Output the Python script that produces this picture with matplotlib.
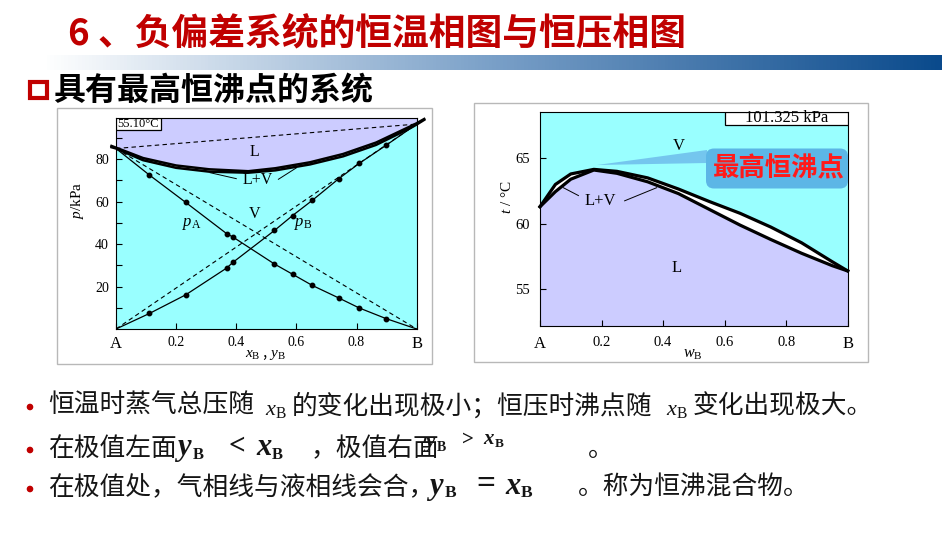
import matplotlib
matplotlib.use("Agg")
import matplotlib.pyplot as plt
import numpy as np
from matplotlib.patches import Rectangle, FancyBboxPatch, Polygon, Circle
from matplotlib.colors import LinearSegmentedColormap

plt.rcParams['font.family'] = ['Noto Sans CJK SC', 'DejaVu Sans']
plt.rcParams['mathtext.fontset'] = 'custom'
plt.rcParams['mathtext.rm'] = 'Liberation Serif'
plt.rcParams['mathtext.it'] = 'Liberation Serif:italic'
plt.rcParams['mathtext.bf'] = 'Liberation Serif:bold'
plt.rcParams['mathtext.bfit'] = 'Liberation Serif:bold:italic'

# ---------------- data ----------------
# Left: isothermal p-x diagram (55.10 C)
xB_pts = [0.111, 0.232, 0.368, 0.389, 0.527, 0.587, 0.653, 0.741, 0.809, 0.898]
pA_pts = [72.5, 59.6, 44.9, 43.3, 30.6, 25.8, 20.5, 14.6, 9.9, 4.9]
pB_pts = [7.3, 16.1, 28.7, 31.4, 46.4, 53.4, 60.6, 70.8, 78.0, 86.5]
pA_star = 85.0
pB_star = 96.5
x_tot = [-0.015, 0.0, 0.09, 0.20, 0.31, 0.44, 0.53, 0.645, 0.755, 0.865, 0.98, 1.0, 1.025]
p_liq = [86.2, 85.4, 80.5, 77.0, 75.2, 74.3, 75.7, 78.5, 82.4, 87.8, 95.5, 96.9, 98.9]
p_vap = [85.6, 85.0, 79.5, 75.9, 74.1, 73.6, 74.7, 77.5, 81.3, 86.7, 94.7, 96.3, 98.5]

# Right: isobaric t-w diagram (101.325 kPa)
wB = [0.0, 0.05, 0.10, 0.175, 0.25, 0.35, 0.45, 0.55, 0.65, 0.75, 0.85, 0.95, 1.0]
t_vap = [61.3, 63.0, 63.8, 64.15, 64.0, 63.5, 62.65, 61.7, 60.8, 59.75, 58.55, 57.1, 56.4]
t_liq = [61.3, 62.45, 63.4, 64.1, 63.85, 63.2, 62.3, 61.1, 59.9, 58.8, 57.75, 56.8, 56.4]

x_ticks = [0, 0.2, 0.4, 0.6, 0.8, 1.0]
x_ticklabels = ['A', '0.2', '0.4', '0.6', '0.8', 'B']

title = "6 、负偏差系统的恒温相图与恒压相图"
subtitle = "具有最高恒沸点的系统"

LAV = '#ccccff'
CYAN = '#99ffff'
SERIF = 'Liberation Serif'

W, H = 950, 535
fig = plt.figure(figsize=(9.5, 5.35), dpi=100)
fig.patch.set_facecolor('white')

def fx(x):
    return x / W

def fy(y):
    return 1 - y / H

# ---------------- left chart ----------------
P_TOP = 99.5
ax1 = fig.add_axes([fx(116), fy(329), (416.7 - 116) / W, (329 - 117.7) / H])
ax1.set_xlim(0, 1)
ax1.set_ylim(0, P_TOP)
ax1.fill_between(x_tot, p_liq, P_TOP, color=LAV, lw=0, zorder=0)
ax1.fill_between(x_tot, 0, p_vap, color=CYAN, lw=0, zorder=0)
ax1.fill_between(x_tot, p_vap, p_liq, color='white', lw=0, zorder=0)
ax1.plot(x_tot, p_liq, color='black', lw=1.8, clip_on=False, zorder=3)
ax1.plot(x_tot, p_vap, color='black', lw=1.8, clip_on=False, zorder=3)
# ideal (Raoult) dashed lines
ax1.plot([0, 1], [pA_star, 0], color='black', lw=0.8, ls=(0, (4, 3)))
ax1.plot([0, 1], [0, pB_star], color='black', lw=0.8, ls=(0, (4, 3)))
ax1.plot([0, 1], [pA_star, pB_star], color='black', lw=0.8, ls=(0, (4, 3)))
# partial pressures
ax1.plot([0] + xB_pts + [1], [pA_star] + pA_pts + [0], color='black', lw=0.9)
ax1.plot([0] + xB_pts + [1], [0] + pB_pts + [pB_star], color='black', lw=0.9)
ax1.plot(xB_pts, pA_pts, 'o', color='black', ms=3.2)
ax1.plot(xB_pts, pB_pts, 'o', color='black', ms=3.2)
ax1.set_xticks(x_ticks)
ax1.set_xticklabels(x_ticklabels)
ax1.set_yticks([20, 40, 60, 80])
ax1.set_yticks([10, 30, 50, 70, 90], minor=True)
ax1.tick_params(direction='in', length=4, width=0.8, pad=5, labelsize=10)
ax1.tick_params(which='minor', direction='in', length=4, width=0.8)
for sp in ax1.spines.values():
    sp.set_linewidth(0.8)
# labels inside
ax1.text(0.462, 83.4, 'L', family=SERIF, fontsize=11.5, ha='center', va='center')
ax1.text(0.47, 70.0, 'L+V', family=SERIF, fontsize=11.5, ha='center', va='center')
ax1.plot([0.400, 0.313], [70.8, 73.6], color='black', lw=0.7)
ax1.plot([0.540, 0.60], [70.5, 75.9], color='black', lw=0.7)
ax1.text(0.462, 54.2, 'V', family=SERIF, fontsize=11.5, ha='center', va='center')
ax1.text(0.252, 49.6, r'$p_{\mathrm{A}}$', fontsize=12, ha='center', va='center')
ax1.text(0.623, 49.6, r'$p_{\mathrm{B}}$', fontsize=12, ha='center', va='center')
box1_y0 = P_TOP - (130 - 117.7) / 2.1236
ax1.add_patch(Rectangle((0.0, box1_y0), 0.149, P_TOP - box1_y0, fc='white', ec='black',
                        lw=0.9, zorder=4))
ax1.text(0.0745, (P_TOP + box1_y0) / 2, '55.10°C', family=SERIF, fontsize=9,
         ha='center', va='center', zorder=5)

# ---------------- right chart ----------------
T_BOT, T_TOP = 52.2, 68.55
ax2 = fig.add_axes([fx(540), fy(326), 307.7 / W, 214.3 / H])
ax2.set_xlim(0, 1)
ax2.set_ylim(T_BOT, T_TOP)
ax2.fill_between(wB, t_vap, T_TOP, color=CYAN, lw=0, zorder=0)
ax2.fill_between(wB, T_BOT, t_liq, color=LAV, lw=0, zorder=0)
ax2.fill_between(wB, t_liq, t_vap, color='white', lw=0, zorder=0)
ax2.plot(wB, t_vap, color='black', lw=2.3, zorder=3, clip_on=False)
ax2.plot(wB, t_liq, color='black', lw=2.3, zorder=3, clip_on=False)
ax2.set_xticks(x_ticks)
ax2.set_xticklabels(x_ticklabels)
ax2.set_yticks([55, 60, 65])
ax2.tick_params(direction='in', length=4, width=0.8, pad=7, labelsize=10.5)
for sp in ax2.spines.values():
    sp.set_linewidth(0.8)
ax2.text(0.45, 65.9, 'V', family=SERIF, fontsize=12, ha='center', va='center')
ax2.text(0.444, 56.62, 'L', family=SERIF, fontsize=12, ha='center', va='center')
ax2.text(0.195, 61.7, 'L+V', family=SERIF, fontsize=12, ha='center', va='center')
ax2.plot([0.125, 0.076], [62.15, 62.75], color='black', lw=0.7)
ax2.plot([0.275, 0.379], [61.75, 62.75], color='black', lw=0.7)
box2_y0 = T_TOP - (125 - 111.7) / 13.1
ax2.add_patch(Rectangle((0.601, box2_y0), 0.399, T_TOP - box2_y0, fc='white', ec='black',
                        lw=0.9, zorder=4))
ax2.text(0.8, (T_TOP + box2_y0) / 2, '101.325 kPa', family=SERIF, fontsize=12,
         ha='center', va='center', zorder=5)

for ax in (ax1, ax2):
    for lab in ax.get_xticklabels() + ax.get_yticklabels():
        lab.set_fontfamily(SERIF)
    xl = ax.get_xticklabels()
    xl[0].set_fontsize(12)
    xl[-1].set_fontsize(12)

# ---------------- overlay (pixel coordinates) ----------------
ov = fig.add_axes([0, 0, 1, 1], zorder=10)
ov.set_xlim(0, W)
ov.set_ylim(H, 0)
ov.axis('off')
ov.patch.set_alpha(0)

# title
ov.text(68, 34, title, color='#c00000', fontsize=26.5, fontweight='bold', va='center', ha='left')
# gradient bar
cmap = LinearSegmentedColormap.from_list('g', ['#ffffff', '#7aa0c8', '#0a4a8c'])
grad = np.linspace(0, 1, 256)[None, :]
ov.imshow(grad, cmap=cmap, extent=[43, 942, 70, 55], aspect='auto', zorder=1)
ov.set_xlim(0, W)
ov.set_ylim(H, 0)
# subtitle
ov.add_patch(Rectangle((30, 82), 17, 16, fill=False, ec='#c00000', lw=3))
ov.text(53, 91, subtitle, color='black', fontsize=23, fontweight='bold', va='center', ha='left')

# image frames
ov.add_patch(Rectangle((57, 108), 375, 256, fill=False, ec='#b8b8b8', lw=1))
ov.add_patch(Rectangle((474, 103), 394, 259, fill=False, ec='#b8b8b8', lw=1))

# axis labels
ov.text(77, 200, r'$p$/kPa', family=SERIF, fontsize=11, rotation=90, ha='center', va='center')
ov.text(265, 353, r'$x_{\mathrm{B}}$ , $y_{\mathrm{B}}$', fontsize=11, ha='center', va='center')
ov.text(507, 197, r'$t$ / °C', family=SERIF, fontsize=11, rotation=90, ha='center', va='center')
ov.text(693, 354, r'$w_{\mathrm{B}}$', fontsize=11.5, ha='center', va='center')

# annotation box
ov.add_patch(Polygon([(707, 150), (707, 163), (597, 165)], closed=True, fc='#74c6ee', ec='none'))
ov.add_patch(FancyBboxPatch((706, 148.5), 142, 40, boxstyle='round,pad=0,rounding_size=8',
                            fc='#5cb6e6', ec='none'))
ov.text(779, 168.5, '最高恒沸点', color='#ff1a1a', fontsize=19, fontweight='bold',
        ha='center', va='center')

# bullets
TXT = '#151515'
for yb in (406, 449, 488):
    ov.add_patch(Circle((30, yb + 1), 2.6, color='#c00000'))


def bold_var(x, base, letter, size, sub_size, sub_dx, sub_dy, z=3):
    ov.text(x, base, letter, family=SERIF, style='italic', weight='bold', fontsize=size,
            color=TXT, va='baseline', ha='left', zorder=z)
    ov.text(x + sub_dx, base + sub_dy, 'B', family=SERIF, weight='bold', fontsize=sub_size,
            color=TXT, va='baseline', ha='left', zorder=z)


fs = 18.5
y1 = 406
ov.text(48, y1, '恒温时蒸气总压随', fontsize=fs, color=TXT, va='center')
ov.text(265, y1 + 2, r'$x_{\mathrm{B}}$', fontsize=16, color=TXT, va='center')
ov.text(292, y1, '的变化出现极小；恒压时沸点随', fontsize=fs, color=TXT, va='center')
ov.text(666, y1 + 2, r'$x_{\mathrm{B}}$', fontsize=16, color=TXT, va='center')
ov.text(693, y1, '变化出现极大。', fontsize=fs, color=TXT, va='center')

y2 = 449
ov.text(48, y2, '在极值左面', fontsize=fs, color=TXT, va='center')
bold_var(177, 455, 'y', 22, 12, 16, 4)
ov.text(229, 446, '<', family=SERIF, weight='bold', fontsize=21, color=TXT, va='center')
bold_var(256, 455, 'x', 22, 12, 16, 4)
# second (partly hidden) formula
bold_var(425, 447, 'y', 15, 10, 12, 4, z=1)
ov.text(462, 440, '>', family=SERIF, weight='bold', fontsize=15, color=TXT, va='center')
bold_var(483, 444, 'x', 15, 9.5, 11.5, 3)
ov.text(311, y2, '，极值右面', fontsize=fs, color=TXT, va='center', zorder=2)
ov.text(588, y2, '。', fontsize=fs, color=TXT, va='center')

y3 = 488
ov.text(48, y3, '在极值处，气相线与液相线会合，', fontsize=fs, color=TXT, va='center')
bold_var(429, 494, 'y', 22, 12.5, 16, 3)
ov.text(476, 484, '=', family=SERIF, weight='bold', fontsize=24, color=TXT, va='center')
bold_var(505, 494, 'x', 22, 12.5, 16, 3)
ov.text(578, y3, '。称为恒沸混合物。', fontsize=fs, color=TXT, va='center')

fig.savefig('out.png', dpi=100)
